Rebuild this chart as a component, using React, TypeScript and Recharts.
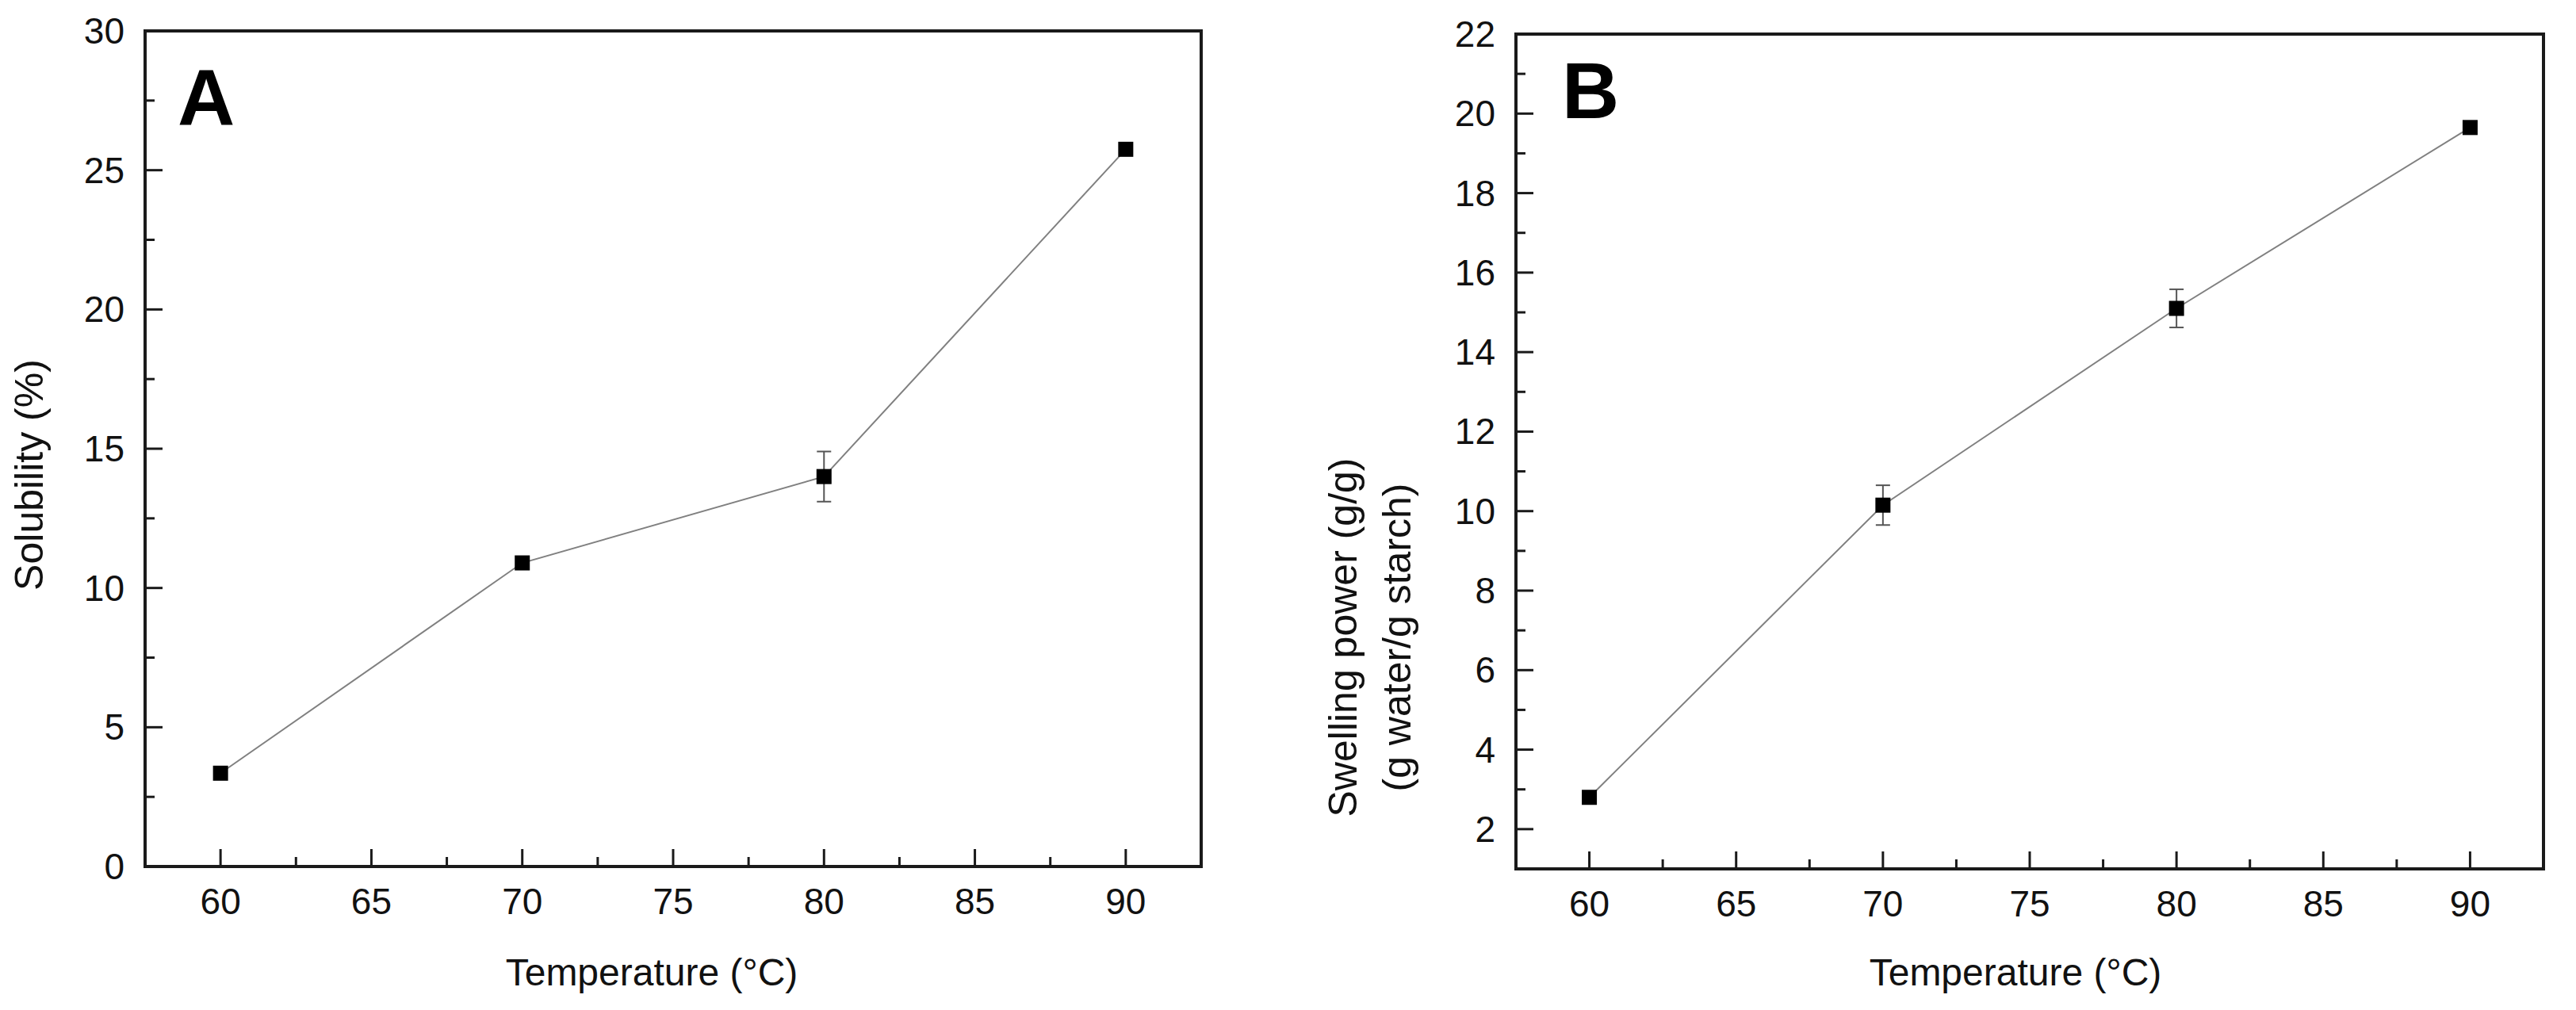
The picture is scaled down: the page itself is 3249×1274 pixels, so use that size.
import { LineChart, Line, XAxis, YAxis, ErrorBar, ReferenceArea } from 'recharts';

const temps = [60, 70, 80, 90];
const solubility = [3.35, 10.9, 14.0, 25.75];
const solubilityErr = [0, 0, 0.9, 0];
const swelling = [2.8, 10.15, 15.1, 19.65];
const swellingErr = [0, 0.5, 0.48, 0];

const xTicks = [60, 62.5, 65, 67.5, 70, 72.5, 75, 77.5, 80, 82.5, 85, 87.5, 90];
const yTicksA = [0, 2.5, 5, 7.5, 10, 12.5, 15, 17.5, 20, 22.5, 25, 27.5, 30];
const yTicksB = [2, 3, 4, 5, 6, 7, 8, 9, 10, 11, 12, 13, 14, 15, 16, 17, 18, 19, 20, 21, 22];

const dataA = temps.map((t, i) => ({ temp: t, value: solubility[i], err: solubilityErr[i] }));
const dataB = temps.map((t, i) => ({ temp: t, value: swelling[i], err: swellingErr[i] }));

const FONT = '"Liberation Sans", Arial, sans-serif';
const INK = '#1a1a1a';
const TICK_FONT = 46;
const TITLE_FONT = 50;

function XTick({ x, y, payload }: any) {
  const major = payload.value % 5 === 0;
  return (
    <g>
      <line x1={x} y1={y} x2={x} y2={y - (major ? 22 : 12)} stroke={INK} strokeWidth={3} />
      {major && (
        <text x={x} y={y + 60} textAnchor="middle" fontSize={TICK_FONT} fontFamily={FONT} fill="#111">
          {payload.value}
        </text>
      )}
    </g>
  );
}

const makeYTick = (step: number) => ({ x, y, payload }: any) => {
  const major = payload.value % step === 0;
  return (
    <g>
      <line x1={x} y1={y} x2={x + (major ? 22 : 12)} y2={y} stroke={INK} strokeWidth={3} />
      {major && (
        <text x={x - 26} y={y + 16} textAnchor="end" fontSize={TICK_FONT} fontFamily={FONT} fill="#111">
          {payload.value}
        </text>
      )}
    </g>
  );
};

const square = (props: any) => {
  const { cx, cy, index } = props;
  return <rect key={`sq-${index}`} x={cx - 9.5} y={cy - 9.5} width={19} height={19} fill="#000" />;
};

// x title, centred a little left of the plot middle as in the original
const xTitle = (cx: number) => () => (
  <text x={cx} y={1243} textAnchor="middle" fontSize={48} fontFamily={FONT} fill="#111">
    Temperature (°C)
  </text>
);

const yTitleA = () => {
  const cx = 37;
  const cy = 599;
  return (
    <text x={cx} y={cy} transform={`rotate(-90 ${cx} ${cy})`} textAnchor="middle" dominantBaseline="central"
      fontSize={TITLE_FONT} fontFamily={FONT} fill="#111">
      Solubility (%)
    </text>
  );
};

const yTitleB = () => {
  const cy = 804;
  return (
    <g fontSize={TITLE_FONT} fontFamily={FONT} fill="#111">
      <text x={94} y={cy} transform={`rotate(-90 94 ${cy})`} textAnchor="middle" dominantBaseline="central">
        Swelling power (g/g)
      </text>
      <text x={162} y={cy} transform={`rotate(-90 162 ${cy})`} textAnchor="middle" dominantBaseline="central">
        (g water/g starch)
      </text>
    </g>
  );
};

const letterStyle: React.CSSProperties = {
  position: 'absolute',
  fontFamily: FONT,
  fontWeight: 'bold',
  fontSize: 100,
  lineHeight: 1,
  color: '#000',
};

export default function App() {
  return (
    <div style={{ position: 'absolute', left: 0, top: 0, width: 3249, height: 1274, background: '#fff', display: 'flex' }}>
      <div style={{ position: 'relative', width: 1600, height: 1274 }}>
        <LineChart width={1600} height={1274} data={dataA} margin={{ top: 39, right: 85, bottom: 0, left: 0 }}>
          <XAxis
            dataKey="temp"
            type="number"
            domain={[57.5, 92.5]}
            ticks={xTicks}
            interval={0}
            height={181}
            tickSize={0}
            tickMargin={0}
            tickLine={false}
            axisLine={{ stroke: INK, strokeWidth: 4 }}
            tick={XTick}
            label={xTitle(822)}
          />
          <YAxis
            type="number"
            domain={[0, 30]}
            ticks={yTicksA}
            interval={0}
            width={183}
            tickSize={0}
            tickMargin={0}
            tickLine={false}
            axisLine={{ stroke: INK, strokeWidth: 4 }}
            tick={makeYTick(5)}
            label={yTitleA}
          />
          <ReferenceArea x1={57.5} x2={92.5} y1={0} y2={30} fill="none" stroke={INK} strokeWidth={4} />
          <Line type="linear" dataKey="value" stroke="#808080" strokeWidth={2} dot={square} isAnimationActive={false}>
            <ErrorBar dataKey="err" direction="y" width={9} stroke="#555" strokeWidth={2} />
          </Line>
        </LineChart>
        <div style={{ ...letterStyle, left: 224, top: 73 }}>A</div>
      </div>
      <div style={{ position: 'relative', width: 1649, height: 1274 }}>
        <LineChart width={1649} height={1274} data={dataB} margin={{ top: 43, right: 41, bottom: 0, left: 0 }}>
          <XAxis
            dataKey="temp"
            type="number"
            domain={[57.5, 92.5]}
            ticks={xTicks}
            interval={0}
            height={178}
            tickSize={0}
            tickMargin={0}
            tickLine={false}
            axisLine={{ stroke: INK, strokeWidth: 4 }}
            tick={XTick}
            label={xTitle(942)}
          />
          <YAxis
            type="number"
            domain={[1, 22]}
            ticks={yTicksB}
            interval={0}
            width={312}
            tickSize={0}
            tickMargin={0}
            tickLine={false}
            axisLine={{ stroke: INK, strokeWidth: 4 }}
            tick={makeYTick(2)}
            label={yTitleB}
          />
          <ReferenceArea x1={57.5} x2={92.5} y1={1} y2={22} fill="none" stroke={INK} strokeWidth={4} />
          <Line type="linear" dataKey="value" stroke="#808080" strokeWidth={2} dot={square} isAnimationActive={false}>
            <ErrorBar dataKey="err" direction="y" width={9} stroke="#555" strokeWidth={2} />
          </Line>
        </LineChart>
        <div style={{ ...letterStyle, left: 370, top: 64 }}>B</div>
      </div>
    </div>
  );
}
